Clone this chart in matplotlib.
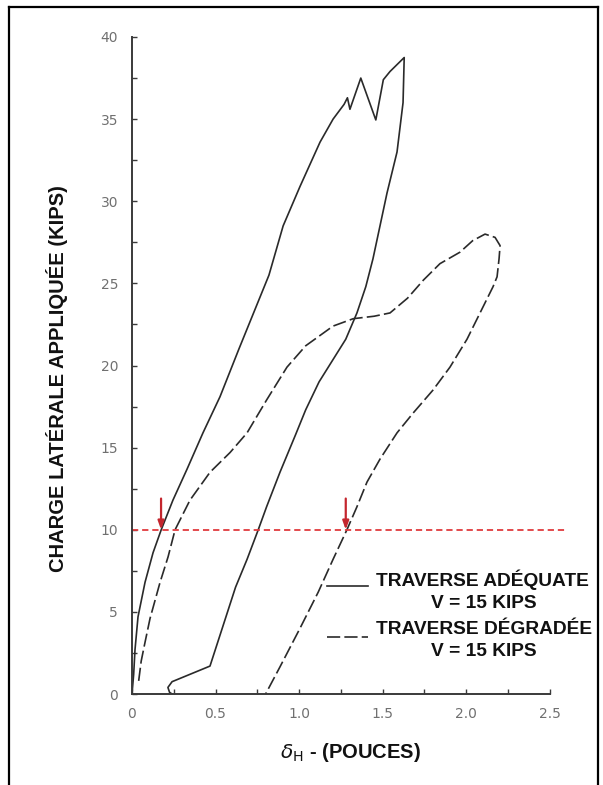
import matplotlib
matplotlib.use('Agg')
import matplotlib.pyplot as plt
from matplotlib.lines import Line2D

plt.rcParams['font.family'] = ['Liberation Sans', 'DejaVu Sans']
plt.rcParams['lines.scale_dashes'] = False

# traverse adequate (solid), load path then unload path
adequate_x = [0.0, 0.01, 0.018, 0.036, 0.078, 0.126, 0.175, 0.245, 0.33, 0.425,
              0.527, 0.64, 0.74, 0.82, 0.905, 1.006, 1.126, 1.204, 1.27, 1.29,
              1.305, 1.37, 1.46, 1.505, 1.545, 1.63, 1.623, 1.587, 1.527, 1.485,
              1.443, 1.40, 1.347, 1.28, 1.20, 1.12, 1.04, 0.98, 0.886, 0.806,
              0.756, 0.689, 0.62, 0.467, 0.24, 0.215, 0.225, 0.24]
adequate_y = [0.0, 1.2, 2.7, 4.7, 6.8, 8.6, 10.0, 11.8, 13.7, 15.9,
              18.1, 21.0, 23.5, 25.5, 28.5, 30.9, 33.6, 35.0, 35.9, 36.3,
              35.6, 37.5, 34.95, 37.4, 37.9, 38.75, 36.0, 33.0, 30.5, 28.5,
              26.5, 24.8, 23.2, 21.6, 20.3, 19.0, 17.3, 15.8, 13.5, 11.4,
              10.0, 8.2, 6.5, 1.7, 0.75, 0.4, 0.1, 0.0]

# traverse degradee (dashed)
degraded_x = [0.04, 0.055, 0.075, 0.108, 0.168, 0.216, 0.258, 0.347, 0.467, 0.587,
              0.689, 0.806, 0.928, 1.04, 1.204, 1.325, 1.45, 1.545, 1.65, 1.745,
              1.844, 1.964, 2.04, 2.114, 2.174, 2.204, 2.198, 2.186, 2.162, 2.084,
              2.006, 1.904, 1.802, 1.683, 1.587, 1.485, 1.407, 1.347, 1.287, 1.204,
              1.115, 1.006, 0.886, 0.80]
degraded_y = [0.8, 2.0, 3.0, 4.6, 6.8, 8.35, 10.0, 11.8, 13.5, 14.7,
              15.9, 17.9, 19.9, 21.2, 22.4, 22.85, 23.0, 23.2, 24.1, 25.2,
              26.2, 26.9, 27.6, 28.0, 27.8, 27.3, 26.5, 25.4, 24.8, 23.2,
              21.6, 19.9, 18.5, 17.1, 15.9, 14.3, 12.9, 11.4, 10.0, 8.2,
              6.2, 4.0, 1.65, 0.0]

ref_load = 10
arrow_x = [0.174, 1.28]
x_ticks = [0, 0.5, 1.0, 1.5, 2.0, 2.5]
x_ticklabels = ['0', '0.5', '1.0', '1.5', '2.0', '2.5']
y_ticks = [0, 5, 10, 15, 20, 25, 30, 35, 40]
labels = ['TRAVERSE ADÉQUATE\nV = 15 KIPS', 'TRAVERSE DÉGRADÉE\nV = 15 KIPS']

W, H = 603, 785
fig = plt.figure(figsize=(W / 100, H / 100), dpi=100, facecolor='white')
ax = fig.add_axes([132 / W, 91 / H, 417.5 / W, 657 / H])

ink = '#2a2a2a'
solid_style = dict(color=ink, lw=1.2, solid_joinstyle='round')
dash_style = dict(color=ink, lw=1.2, dashes=(9.5, 3))
ax.plot(adequate_x, adequate_y, **solid_style)
ax.plot(degraded_x, degraded_y, **dash_style)

ax.plot([0, 2.59], [ref_load, ref_load], color='#e03a3e', lw=1.3,
        dashes=(4.5, 2.8), clip_on=False)
for xa in arrow_x:
    ax.annotate('', xy=(xa, ref_load), xytext=(xa, ref_load + 1.9),
                arrowprops=dict(arrowstyle='-|>,head_length=0.5,head_width=0.18',
                                color='#c4262e', lw=1.6, shrinkA=0, shrinkB=0))

ax.set_xlim(0, 2.5)
ax.set_ylim(0, 40)
ax.set_xticks(x_ticks)
ax.set_xticklabels(x_ticklabels)
ax.set_xticks([i * 0.25 for i in range(11)], minor=True)
ax.set_yticks(y_ticks)
ax.set_yticks([i * 2.5 for i in range(17)], minor=True)
for s in ['top', 'right']:
    ax.spines[s].set_visible(False)
for s in ['left', 'bottom']:
    ax.spines[s].set_color('#3a3a3a')
    ax.spines[s].set_linewidth(1.4)
ax.tick_params(which='both', direction='in', length=3.5, width=1, color='#3a3a3a')
ax.tick_params(axis='y', which='major', pad=10, labelsize=10, labelcolor='#707070')
ax.tick_params(axis='x', which='major', pad=9, labelsize=10, labelcolor='#707070')
for t in ax.get_xticklabels() + ax.get_yticklabels():
    t.set_family('DejaVu Sans')

# legend drawn by hand: sample line, title line, centred second line
txt = dict(fontsize=13.8, fontweight='bold', color='#111111', va='center')
for lab, style, y_line, y_txt in zip(labels, [solid_style, dash_style], [586, 637], [580, 629]):
    first, second = lab.split('\n')
    fig.add_artist(Line2D([327 / W, 368 / W], [1 - y_line / H] * 2,
                          transform=fig.transFigure, **style))
    fig.text(376 / W, 1 - y_txt / H, first, ha='left', **txt)
    fig.text(484 / W, 1 - (y_txt + 23) / H, second, ha='center', **txt)

fig.text(57 / W, 1 - 379 / H, 'CHARGE LATÉRALE APPLIQUÉE (KIPS)', rotation=90,
         ha='center', va='center', fontsize=14.5, fontweight='bold', color='#111111')
fig.text(350 / W, 1 - 753 / H, r'$\delta_{\rm H}$ - (POUCES)', ha='center', va='center',
         fontsize=14.5, fontweight='bold', color='#111111')

# outer frame
frame = dict(transform=fig.transFigure, color='black', lw=1.6, zorder=21)
fig.add_artist(Line2D([9 / W, 598 / W], [1 - 7 / H, 1 - 7 / H], **frame))
fig.add_artist(Line2D([9 / W, 9 / W], [0, 1 - 7 / H], **frame))
fig.add_artist(Line2D([598 / W, 598 / W], [0, 1 - 7 / H], **frame))

fig.savefig('out.png', dpi=100, facecolor='white')
